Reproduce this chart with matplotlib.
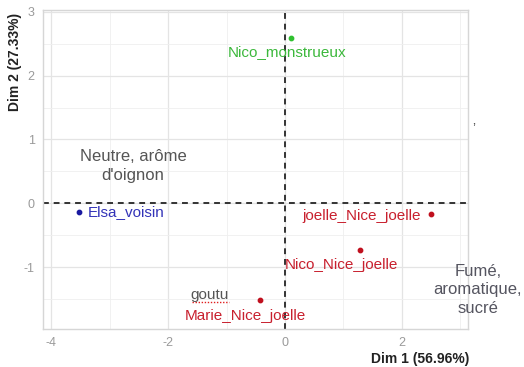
import matplotlib
matplotlib.use("Agg")
import matplotlib.pyplot as plt
import numpy as np

plt.rcParams["font.family"] = ["Liberation Sans", "DejaVu Sans"]
plt.rcParams["axes.unicode_minus"] = False

# individuals on the first factorial plane
names = ["Nico_monstrueux", "Elsa_voisin", "joelle_Nice_joelle", "Nico_Nice_joelle", "Marie_Nice_joelle"]
dim1 = [0.10, -3.52, 2.50, 1.28, -0.43]
dim2 = [2.59, -0.14, -0.17, -0.73, -1.52]
groups = ["green", "blue", "red", "red", "red"]
group_colors = {"green": "#3cb83c", "blue": "#3333b8", "red": "#c8202e"}
dot_colors = {"green": "#2fc02f", "blue": "#1a1aa0", "red": "#c0101e"}

x_ticks = [-4, -2, 0, 2]
y_ticks = [-1, 0, 1, 2, 3]

fig = plt.figure(figsize=(5.24, 3.67), dpi=100)
ax = fig.add_axes([0.082, 0.1035, 0.811, 0.8695])

ax.set_xlim(-4.14, 3.13)
ax.set_ylim(-1.97, 3.03)

ax.set_xticks(x_ticks)
ax.set_yticks(y_ticks)
ax.set_xticks([-3, -1, 1, 3], minor=True)
ax.set_yticks(np.arange(-1.5, 3.0, 1.0), minor=True)
ax.grid(True, which="major", color="#e4e4e4", lw=0.9)
ax.grid(True, which="minor", color="#efefef", lw=0.6)
ax.set_axisbelow(True)
ax.tick_params(which="both", length=0)
ax.tick_params(axis="both", colors="#9a9a9a", labelsize=9, pad=6)
for s in ax.spines.values():
    s.set_color("#d6d6d6")
    s.set_linewidth(1.0)

ax.axhline(0, color="#333333", ls=(0, (3, 2.5)), lw=1.4, zorder=2)
ax.axvline(0, color="#333333", ls=(0, (3, 2.5)), lw=1.4, zorder=2)

# label offsets (points) and alignment, as repelled in the original
label_pos = {
    "Nico_monstrueux": (-3, -10, "center"),
    "Elsa_voisin": (6, 0, "left"),
    "joelle_Nice_joelle": (-7, -1, "right"),
    "Nico_Nice_joelle": (-54, -11, "left"),
    "Marie_Nice_joelle": (-54, -11, "left"),
}

for n, x, y, g in zip(names, dim1, dim2, groups):
    ax.scatter([x], [y], s=10, color=dot_colors[g], zorder=3)
    dx, dy, ha = label_pos[n]
    ax.annotate(n, (x, y), xytext=(dx, dy), textcoords="offset points",
                ha=ha, va="center", fontsize=11, color=group_colors[g], zorder=4)

fig.text(0.254, 0.548, "Neutre, arôme\nd'oignon", ha="center", va="center",
         fontsize=12, color="#555555", linespacing=1.35)
fig.text(0.912, 0.21, "Fumé,\naromatique,\nsucré", ha="center", va="center",
         fontsize=12, color="#555560", linespacing=1.3)
fig.text(0.40, 0.197, "goutu", ha="center", va="center", fontsize=11, color="#555555")
fig.add_artist(plt.Line2D([0.367, 0.437], [0.178, 0.178], color="#e02020",
                          lw=1.0, ls=(0, (1, 1.2)), transform=fig.transFigure))
fig.text(0.905, 0.645, "\u02bc", ha="center", va="center", fontsize=10, color="#555555")

fig.text(0.802, 0.002, "Dim 1 (56.96%)", ha="center", va="bottom",
         fontsize=10, fontweight="bold", color="#222222")
fig.text(0.028, 0.832, "Dim 2 (27.33%)", ha="center", va="center", rotation=90,
         fontsize=10, fontweight="bold", color="#222222")

fig.savefig("out.png", dpi=100)
